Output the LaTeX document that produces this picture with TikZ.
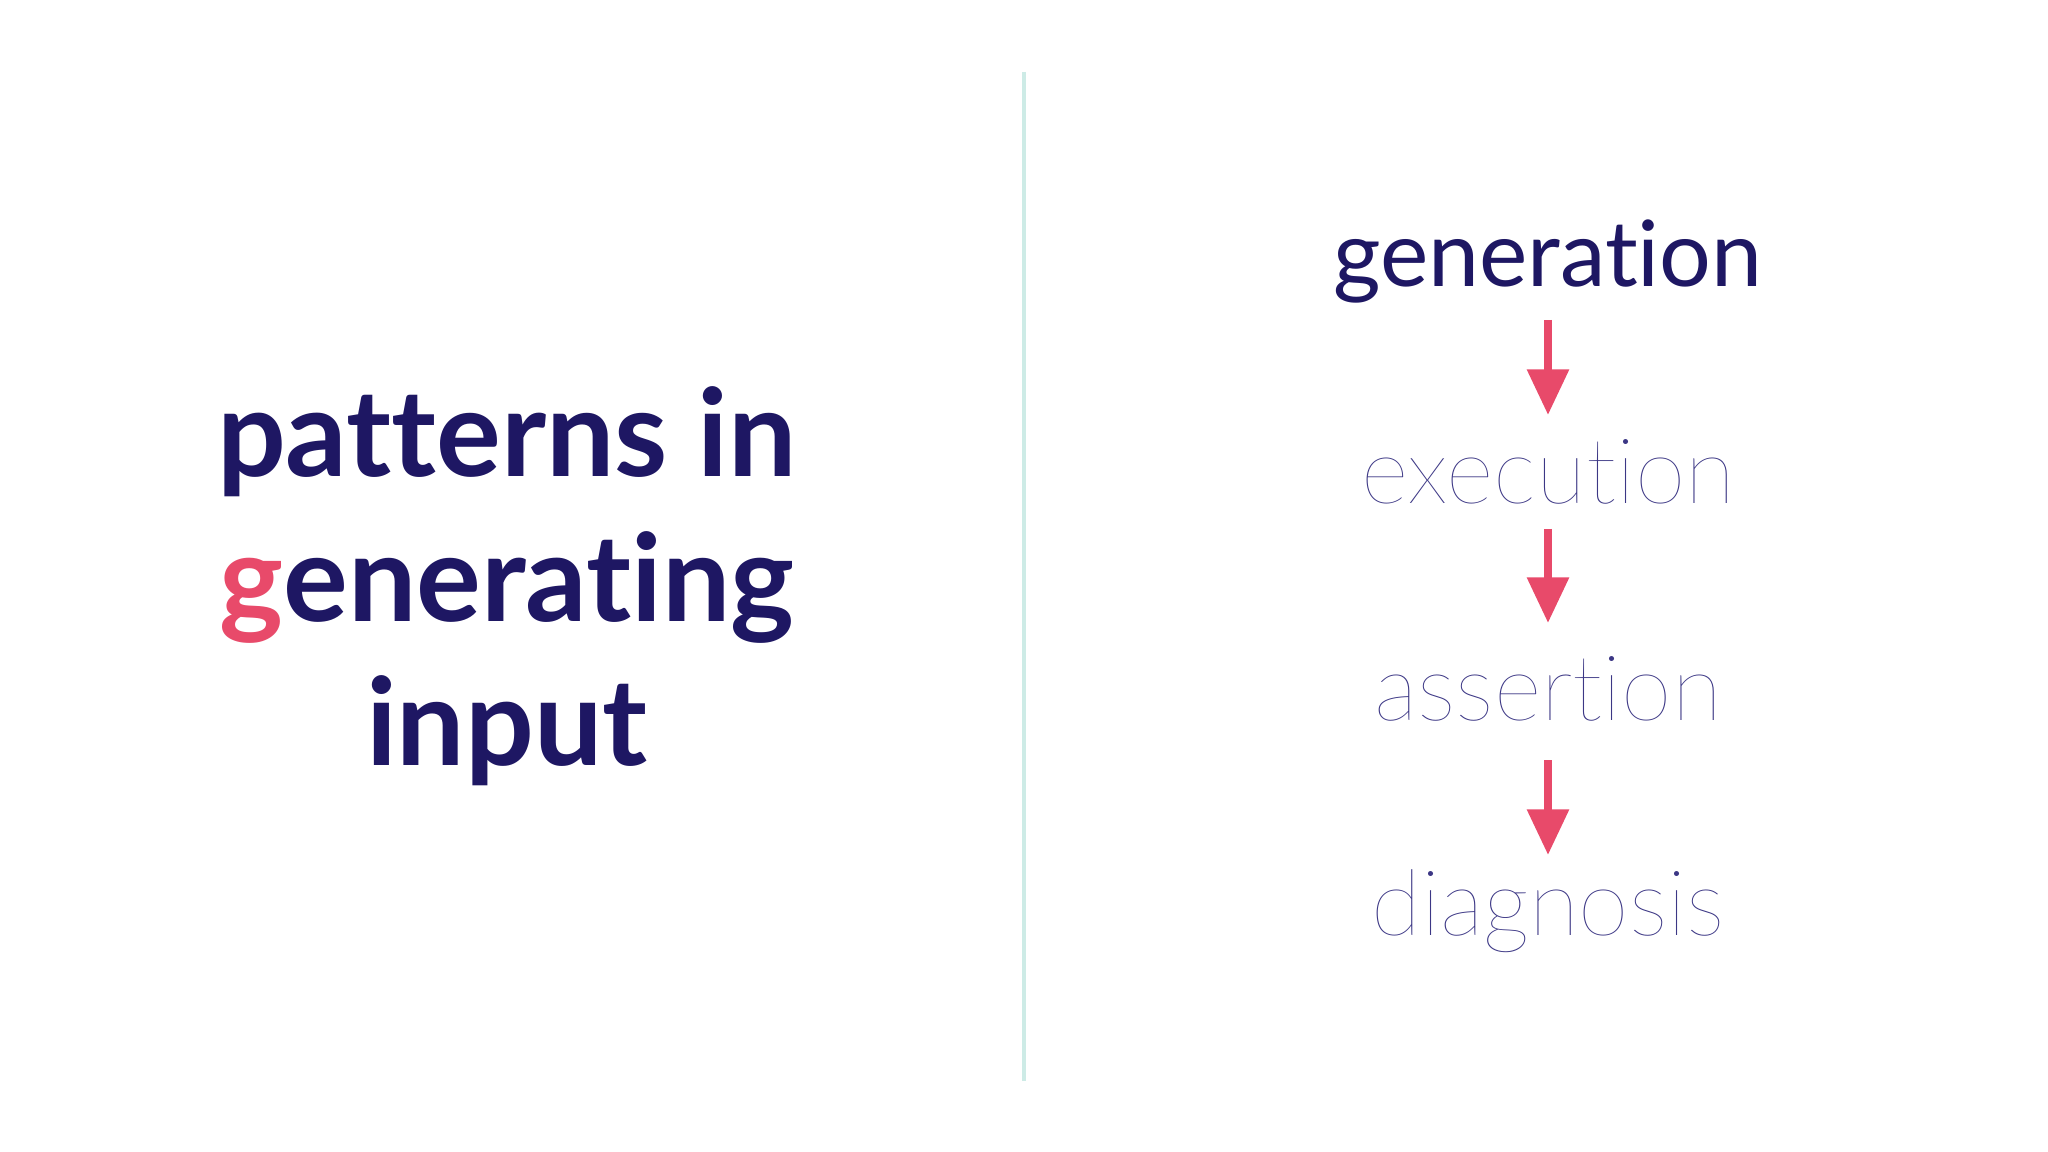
\documentclass[tikz,border=0pt]{standalone}
\usepackage{fontspec}
\setmainfont{Lato}[Ligatures={NoCommon,NoRare,NoDiscretionary},Contextuals={NoAlternate}]
\newfontfamily\latolight{Lato Hairline}[Ligatures={NoCommon,NoRare,NoDiscretionary}]
\usetikzlibrary{arrows.meta}
\definecolor{navy}{HTML}{1E1763}
\definecolor{pinkred}{HTML}{E84A6A}
\definecolor{thinpurple}{HTML}{3C3785}
\definecolor{divider}{HTML}{CDEBE6}
\tikzset{
  bigtxt/.style={font=\fontsize{34.5}{40}\selectfont\bfseries, text=navy, anchor=base},
  steptitle/.style={font=\fontsize{26}{32}\selectfont, text=navy, anchor=base},
  stepthin/.style={font=\fontsize{26}{32}\selectfont\latolight, text=thinpurple, anchor=base},
  flowarrow/.style={pinkred, line width=2.3pt, -{Triangle[length=13pt,width=11.5pt]}}
}
\begin{document}
\begin{tikzpicture}[x=0.01cm,y=-0.01cm]
\fill[white] (0,0) rectangle (2048,1152);
\draw[divider, line width=1.2pt] (1024,72) -- (1024,1081);
\node[bigtxt] (l1) at (507,477) {patterns in};
\node[bigtxt] (l2) at (507,621) {\textcolor{pinkred}{g}enerating};
\node[bigtxt] (l3) at (507,765) {input};
\node[steptitle] (s1) at (1548,287) {generation};
\node[stepthin] (s2) at (1548,504) {execution};
\node[stepthin] (s3) at (1548,720) {assertion};
\node[stepthin] (s4) at (1548,935) {diagnosis};
\coordinate (a1s) at (1548,320); \coordinate (a1e) at (1548,415);
\coordinate (a2s) at (1548,529); \coordinate (a2e) at (1548,623);
\coordinate (a3s) at (1548,760); \coordinate (a3e) at (1548,855);
\draw[flowarrow] (a1s) -- (a1e);
\draw[flowarrow] (a2s) -- (a2e);
\draw[flowarrow] (a3s) -- (a3e);
\end{tikzpicture}
\end{document}
